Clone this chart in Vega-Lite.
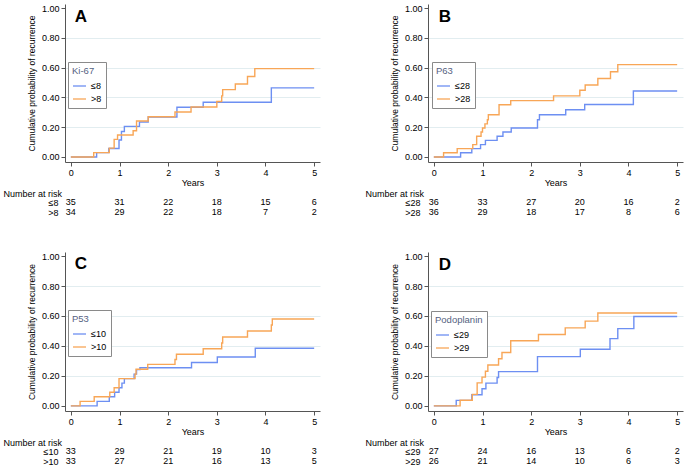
{
  "$schema": "https://vega.github.io/schema/vega-lite/v6.json",
  "background": "white",
  "padding": {"left": 3, "top": 4, "right": 2, "bottom": 2},
  "autosize": {"type": "pad"},
  "config": {
    "font": "Liberation Sans",
    "view": {"stroke": null},
    "axis": {"labelFont": "Liberation Sans", "titleFont": "Liberation Sans", "labelFontSize": 9, "labelColor": "#000", "titleFontSize": 9, "titleFontWeight": "normal", "titleColor": "#000", "domainColor": "#555", "tickColor": "#555", "tickSize": 4, "labelPadding": 2, "labelOverlap": false},
    "legend": {"orient": "none", "legendX": 3, "legendY": 58, "strokeColor": "#8a8a8a", "fillColor": "white", "padding": 4, "titleColor": "#55627f", "titleFontSize": 9.5, "titleFontWeight": "normal", "titleFont": "Liberation Sans", "labelFont": "Liberation Sans", "labelFontSize": 9, "labelColor": "#000", "symbolType": "stroke", "symbolSize": 170, "symbolStrokeWidth": 1.3, "rowPadding": -2, "labelOffset": 4, "titlePadding": 3},
    "text": {"font": "Liberation Sans"}
  },
  "datasets": {
    "curves": [
      {"panel": "A", "group": "≤8", "t": 0, "p": 0}, {"panel": "A", "group": "≤8", "t": 0.53, "p": 0.029}, {"panel": "A", "group": "≤8", "t": 0.78, "p": 0.057}, {"panel": "A", "group": "≤8", "t": 0.99, "p": 0.114}, {"panel": "A", "group": "≤8", "t": 1.04, "p": 0.171}, {"panel": "A", "group": "≤8", "t": 1.1, "p": 0.205}, {"panel": "A", "group": "≤8", "t": 1.41, "p": 0.235}, {"panel": "A", "group": "≤8", "t": 1.59, "p": 0.268}, {"panel": "A", "group": "≤8", "t": 2.18, "p": 0.334}, {"panel": "A", "group": "≤8", "t": 2.72, "p": 0.367}, {"panel": "A", "group": "≤8", "t": 4.12, "p": 0.464}, {"panel": "A", "group": "≤8", "t": 5, "p": 0.464},
      {"panel": "A", "group": ">8", "t": 0, "p": 0}, {"panel": "A", "group": ">8", "t": 0.47, "p": 0.029}, {"panel": "A", "group": ">8", "t": 0.79, "p": 0.059}, {"panel": "A", "group": ">8", "t": 0.89, "p": 0.118}, {"panel": "A", "group": ">8", "t": 0.96, "p": 0.147}, {"panel": "A", "group": ">8", "t": 1.28, "p": 0.176}, {"panel": "A", "group": ">8", "t": 1.35, "p": 0.241}, {"panel": "A", "group": ">8", "t": 1.59, "p": 0.27}, {"panel": "A", "group": ">8", "t": 2.14, "p": 0.302}, {"panel": "A", "group": ">8", "t": 2.47, "p": 0.335}, {"panel": "A", "group": ">8", "t": 3.0, "p": 0.372}, {"panel": "A", "group": ">8", "t": 3.1, "p": 0.41}, {"panel": "A", "group": ">8", "t": 3.12, "p": 0.452}, {"panel": "A", "group": ">8", "t": 3.38, "p": 0.49}, {"panel": "A", "group": ">8", "t": 3.63, "p": 0.54}, {"panel": "A", "group": ">8", "t": 3.78, "p": 0.593}, {"panel": "A", "group": ">8", "t": 5, "p": 0.593},
      {"panel": "B", "group": "≤28", "t": 0, "p": 0}, {"panel": "B", "group": "≤28", "t": 0.55, "p": 0.028}, {"panel": "B", "group": "≤28", "t": 0.78, "p": 0.056}, {"panel": "B", "group": "≤28", "t": 0.96, "p": 0.083}, {"panel": "B", "group": "≤28", "t": 1.06, "p": 0.111}, {"panel": "B", "group": "≤28", "t": 1.3, "p": 0.139}, {"panel": "B", "group": "≤28", "t": 1.42, "p": 0.167}, {"panel": "B", "group": "≤28", "t": 1.59, "p": 0.194}, {"panel": "B", "group": "≤28", "t": 2.13, "p": 0.25}, {"panel": "B", "group": "≤28", "t": 2.17, "p": 0.283}, {"panel": "B", "group": "≤28", "t": 2.71, "p": 0.317}, {"panel": "B", "group": "≤28", "t": 3.1, "p": 0.352}, {"panel": "B", "group": "≤28", "t": 4.1, "p": 0.443}, {"panel": "B", "group": "≤28", "t": 5, "p": 0.443},
      {"panel": "B", "group": ">28", "t": 0, "p": 0}, {"panel": "B", "group": ">28", "t": 0.2, "p": 0.028}, {"panel": "B", "group": ">28", "t": 0.48, "p": 0.056}, {"panel": "B", "group": ">28", "t": 0.8, "p": 0.083}, {"panel": "B", "group": ">28", "t": 0.88, "p": 0.139}, {"panel": "B", "group": ">28", "t": 0.97, "p": 0.167}, {"panel": "B", "group": ">28", "t": 1.0, "p": 0.194}, {"panel": "B", "group": ">28", "t": 1.05, "p": 0.222}, {"panel": "B", "group": ">28", "t": 1.1, "p": 0.25}, {"panel": "B", "group": ">28", "t": 1.12, "p": 0.283}, {"panel": "B", "group": ">28", "t": 1.34, "p": 0.35}, {"panel": "B", "group": ">28", "t": 1.58, "p": 0.378}, {"panel": "B", "group": ">28", "t": 2.46, "p": 0.41}, {"panel": "B", "group": ">28", "t": 3.0, "p": 0.448}, {"panel": "B", "group": ">28", "t": 3.11, "p": 0.483}, {"panel": "B", "group": ">28", "t": 3.37, "p": 0.527}, {"panel": "B", "group": ">28", "t": 3.63, "p": 0.572}, {"panel": "B", "group": ">28", "t": 3.78, "p": 0.62}, {"panel": "B", "group": ">28", "t": 5, "p": 0.62},
      {"panel": "C", "group": "≤10", "t": 0, "p": 0}, {"panel": "C", "group": "≤10", "t": 0.54, "p": 0.03}, {"panel": "C", "group": "≤10", "t": 0.79, "p": 0.061}, {"panel": "C", "group": "≤10", "t": 0.9, "p": 0.091}, {"panel": "C", "group": "≤10", "t": 0.99, "p": 0.121}, {"panel": "C", "group": "≤10", "t": 1.05, "p": 0.152}, {"panel": "C", "group": "≤10", "t": 1.1, "p": 0.182}, {"panel": "C", "group": "≤10", "t": 1.3, "p": 0.212}, {"panel": "C", "group": "≤10", "t": 1.35, "p": 0.242}, {"panel": "C", "group": "≤10", "t": 1.42, "p": 0.255}, {"panel": "C", "group": "≤10", "t": 2.48, "p": 0.29}, {"panel": "C", "group": "≤10", "t": 3.01, "p": 0.326}, {"panel": "C", "group": "≤10", "t": 3.79, "p": 0.385}, {"panel": "C", "group": "≤10", "t": 5, "p": 0.385},
      {"panel": "C", "group": ">10", "t": 0, "p": 0}, {"panel": "C", "group": ">10", "t": 0.19, "p": 0.03}, {"panel": "C", "group": ">10", "t": 0.48, "p": 0.061}, {"panel": "C", "group": ">10", "t": 0.8, "p": 0.091}, {"panel": "C", "group": ">10", "t": 0.89, "p": 0.121}, {"panel": "C", "group": ">10", "t": 0.99, "p": 0.182}, {"panel": "C", "group": ">10", "t": 1.32, "p": 0.212}, {"panel": "C", "group": ">10", "t": 1.34, "p": 0.245}, {"panel": "C", "group": ">10", "t": 1.58, "p": 0.277}, {"panel": "C", "group": ">10", "t": 2.14, "p": 0.31}, {"panel": "C", "group": ">10", "t": 2.17, "p": 0.345}, {"panel": "C", "group": ">10", "t": 2.72, "p": 0.381}, {"panel": "C", "group": ">10", "t": 3.1, "p": 0.42}, {"panel": "C", "group": ">10", "t": 3.12, "p": 0.46}, {"panel": "C", "group": ">10", "t": 3.63, "p": 0.5}, {"panel": "C", "group": ">10", "t": 4.12, "p": 0.54}, {"panel": "C", "group": ">10", "t": 4.14, "p": 0.58}, {"panel": "C", "group": ">10", "t": 5, "p": 0.58},
      {"panel": "D", "group": "≤29", "t": 0, "p": 0}, {"panel": "D", "group": "≤29", "t": 0.46, "p": 0.037}, {"panel": "D", "group": "≤29", "t": 0.78, "p": 0.074}, {"panel": "D", "group": "≤29", "t": 0.99, "p": 0.114}, {"panel": "D", "group": "≤29", "t": 1.07, "p": 0.152}, {"panel": "D", "group": "≤29", "t": 1.3, "p": 0.19}, {"panel": "D", "group": "≤29", "t": 1.33, "p": 0.229}, {"panel": "D", "group": "≤29", "t": 2.13, "p": 0.329}, {"panel": "D", "group": "≤29", "t": 3.01, "p": 0.378}, {"panel": "D", "group": "≤29", "t": 3.62, "p": 0.449}, {"panel": "D", "group": "≤29", "t": 3.78, "p": 0.516}, {"panel": "D", "group": "≤29", "t": 4.11, "p": 0.597}, {"panel": "D", "group": "≤29", "t": 5, "p": 0.597},
      {"panel": "D", "group": ">29", "t": 0, "p": 0}, {"panel": "D", "group": ">29", "t": 0.54, "p": 0.038}, {"panel": "D", "group": ">29", "t": 0.79, "p": 0.077}, {"panel": "D", "group": ">29", "t": 0.89, "p": 0.154}, {"panel": "D", "group": ">29", "t": 0.99, "p": 0.192}, {"panel": "D", "group": ">29", "t": 1.06, "p": 0.231}, {"panel": "D", "group": ">29", "t": 1.11, "p": 0.273}, {"panel": "D", "group": ">29", "t": 1.33, "p": 0.315}, {"panel": "D", "group": ">29", "t": 1.4, "p": 0.356}, {"panel": "D", "group": ">29", "t": 1.58, "p": 0.435}, {"panel": "D", "group": ">29", "t": 2.15, "p": 0.476}, {"panel": "D", "group": ">29", "t": 2.7, "p": 0.521}, {"panel": "D", "group": ">29", "t": 3.11, "p": 0.566}, {"panel": "D", "group": ">29", "t": 3.37, "p": 0.62}, {"panel": "D", "group": ">29", "t": 5, "p": 0.62}
    ],
    "risk": [
      {"panel": "A", "group": "≤8", "t": 0, "n": 35}, {"panel": "A", "group": "≤8", "t": 1, "n": 31}, {"panel": "A", "group": "≤8", "t": 2, "n": 22}, {"panel": "A", "group": "≤8", "t": 3, "n": 18}, {"panel": "A", "group": "≤8", "t": 4, "n": 15}, {"panel": "A", "group": "≤8", "t": 5, "n": 6},
      {"panel": "A", "group": ">8", "t": 0, "n": 34}, {"panel": "A", "group": ">8", "t": 1, "n": 29}, {"panel": "A", "group": ">8", "t": 2, "n": 22}, {"panel": "A", "group": ">8", "t": 3, "n": 18}, {"panel": "A", "group": ">8", "t": 4, "n": 7}, {"panel": "A", "group": ">8", "t": 5, "n": 2},
      {"panel": "B", "group": "≤28", "t": 0, "n": 36}, {"panel": "B", "group": "≤28", "t": 1, "n": 33}, {"panel": "B", "group": "≤28", "t": 2, "n": 27}, {"panel": "B", "group": "≤28", "t": 3, "n": 20}, {"panel": "B", "group": "≤28", "t": 4, "n": 16}, {"panel": "B", "group": "≤28", "t": 5, "n": 2},
      {"panel": "B", "group": ">28", "t": 0, "n": 36}, {"panel": "B", "group": ">28", "t": 1, "n": 29}, {"panel": "B", "group": ">28", "t": 2, "n": 18}, {"panel": "B", "group": ">28", "t": 3, "n": 17}, {"panel": "B", "group": ">28", "t": 4, "n": 8}, {"panel": "B", "group": ">28", "t": 5, "n": 6},
      {"panel": "C", "group": "≤10", "t": 0, "n": 33}, {"panel": "C", "group": "≤10", "t": 1, "n": 29}, {"panel": "C", "group": "≤10", "t": 2, "n": 21}, {"panel": "C", "group": "≤10", "t": 3, "n": 19}, {"panel": "C", "group": "≤10", "t": 4, "n": 10}, {"panel": "C", "group": "≤10", "t": 5, "n": 3},
      {"panel": "C", "group": ">10", "t": 0, "n": 33}, {"panel": "C", "group": ">10", "t": 1, "n": 27}, {"panel": "C", "group": ">10", "t": 2, "n": 21}, {"panel": "C", "group": ">10", "t": 3, "n": 16}, {"panel": "C", "group": ">10", "t": 4, "n": 13}, {"panel": "C", "group": ">10", "t": 5, "n": 5},
      {"panel": "D", "group": "≤29", "t": 0, "n": 27}, {"panel": "D", "group": "≤29", "t": 1, "n": 24}, {"panel": "D", "group": "≤29", "t": 2, "n": 16}, {"panel": "D", "group": "≤29", "t": 3, "n": 13}, {"panel": "D", "group": "≤29", "t": 4, "n": 6}, {"panel": "D", "group": "≤29", "t": 5, "n": 2},
      {"panel": "D", "group": ">29", "t": 0, "n": 26}, {"panel": "D", "group": ">29", "t": 1, "n": 21}, {"panel": "D", "group": ">29", "t": 2, "n": 14}, {"panel": "D", "group": ">29", "t": 3, "n": 10}, {"panel": "D", "group": ">29", "t": 4, "n": 6}, {"panel": "D", "group": ">29", "t": 5, "n": 3}
    ]
  },
  "resolve": {"scale": {"color": "independent"}, "legend": {"color": "independent"}},
  "spacing": 35,
  "vconcat": [
    {
      "resolve": {"scale": {"color": "independent"}, "legend": {"color": "independent"}},
      "spacing": 45,
      "hconcat": [
        {
          "resolve": {"scale": {"color": "independent"}, "legend": {"color": "independent"}},
          "spacing": 2,
          "vconcat": [
            {
              "width": 255, "height": 158,
              "layer": [
                {
                  "data": {"name": "curves"},
                  "transform": [{"filter": "datum.panel == 'A'"}],
                  "mark": {"type": "line", "interpolate": "step-after", "strokeWidth": 1.4},
                  "encoding": {
                    "x": {"field": "t", "type": "quantitative", "scale": {"domain": [-0.12, 5.12], "nice": false, "zero": false}, "axis": {"values": [0, 1, 2, 3, 4, 5], "tickCount": 10, "format": "d", "title": "Years", "grid": false, "titlePadding": 1, "labelFlush": false}},
                    "y": {"field": "p", "type": "quantitative", "scale": {"domain": [-0.034, 1.027], "nice": false, "zero": false}, "axis": {"values": [0, 0.2, 0.4, 0.6, 0.8, 1], "tickCount": 10, "format": ".2f", "labelOverlap": false, "title": "Cumulative probability of recurrence", "titleFontSize": 8.5, "titlePadding": 5, "grid": true, "gridColor": "#e2edf0", "gridOpacity": {"condition": {"test": "datum.value < 0.01 || datum.value > 0.99", "value": 0}, "value": 1}}},
                    "color": {"field": "group", "type": "nominal", "scale": {"domain": ["≤8", ">8"], "range": ["#6d8ff2", "#f8a657"]}, "legend": {"title": "Ki-67", "legendX": 3, "legendY": 58}}
                  }
                },
                {
                  "data": {"values": [{"label": "A"}]},
                  "mark": {"type": "text", "align": "left", "baseline": "top", "fontSize": 17, "fontWeight": "bold"},
                  "encoding": {"x": {"datum": 0.08}, "y": {"datum": 0.993}, "text": {"field": "label"}}
                }
              ]
            },
            {
              "width": 255, "height": 20,
              "data": {"name": "risk"},
              "transform": [{"filter": "datum.panel == 'A'"}],
              "mark": {"type": "text", "fontSize": 9},
              "encoding": {
                "x": {"field": "t", "type": "quantitative", "scale": {"domain": [-0.12, 5.12], "nice": false, "zero": false}, "axis": null},
                "y": {"field": "group", "type": "nominal", "sort": ["≤8", ">8"], "scale": {"type": "point", "padding": 0.5}, "axis": {"title": "Number at risk", "titleAngle": 0, "titleAlign": "left", "titleBaseline": "middle", "titleX": -62, "titleY": -4, "domain": false, "ticks": false, "labelPadding": 7, "grid": false}},
                "text": {"field": "n", "type": "quantitative"}
              }
            }
          ]
        },
        {
          "resolve": {"scale": {"color": "independent"}, "legend": {"color": "independent"}},
          "spacing": 2,
          "vconcat": [
            {
              "width": 255, "height": 158,
              "layer": [
                {
                  "data": {"name": "curves"},
                  "transform": [{"filter": "datum.panel == 'B'"}],
                  "mark": {"type": "line", "interpolate": "step-after", "strokeWidth": 1.4},
                  "encoding": {
                    "x": {"field": "t", "type": "quantitative", "scale": {"domain": [-0.12, 5.12], "nice": false, "zero": false}, "axis": {"values": [0, 1, 2, 3, 4, 5], "tickCount": 10, "format": "d", "title": "Years", "grid": false, "titlePadding": 1, "labelFlush": false}},
                    "y": {"field": "p", "type": "quantitative", "scale": {"domain": [-0.034, 1.027], "nice": false, "zero": false}, "axis": {"values": [0, 0.2, 0.4, 0.6, 0.8, 1], "tickCount": 10, "format": ".2f", "labelOverlap": false, "title": "Cumulative probability of recurrence", "titleFontSize": 8.5, "titlePadding": 5, "grid": true, "gridColor": "#e2edf0", "gridOpacity": {"condition": {"test": "datum.value < 0.01 || datum.value > 0.99", "value": 0}, "value": 1}}},
                    "color": {"field": "group", "type": "nominal", "scale": {"domain": ["≤28", ">28"], "range": ["#6d8ff2", "#f8a657"]}, "legend": {"title": "P63", "legendX": 4, "legendY": 58}}
                  }
                },
                {
                  "data": {"values": [{"label": "B"}]},
                  "mark": {"type": "text", "align": "left", "baseline": "top", "fontSize": 17, "fontWeight": "bold"},
                  "encoding": {"x": {"datum": 0.1}, "y": {"datum": 0.993}, "text": {"field": "label"}}
                }
              ]
            },
            {
              "width": 255, "height": 20,
              "data": {"name": "risk"},
              "transform": [{"filter": "datum.panel == 'B'"}],
              "mark": {"type": "text", "fontSize": 9},
              "encoding": {
                "x": {"field": "t", "type": "quantitative", "scale": {"domain": [-0.12, 5.12], "nice": false, "zero": false}, "axis": null},
                "y": {"field": "group", "type": "nominal", "sort": ["≤28", ">28"], "scale": {"type": "point", "padding": 0.5}, "axis": {"title": "Number at risk", "titleAngle": 0, "titleAlign": "left", "titleBaseline": "middle", "titleX": -63, "titleY": -4, "domain": false, "ticks": false, "labelPadding": 8, "grid": false}},
                "text": {"field": "n", "type": "quantitative"}
              }
            }
          ]
        }
      ]
    },
    {
      "resolve": {"scale": {"color": "independent"}, "legend": {"color": "independent"}},
      "spacing": 45,
      "hconcat": [
        {
          "resolve": {"scale": {"color": "independent"}, "legend": {"color": "independent"}},
          "spacing": 2,
          "vconcat": [
            {
              "width": 255, "height": 159,
              "layer": [
                {
                  "data": {"name": "curves"},
                  "transform": [{"filter": "datum.panel == 'C'"}],
                  "mark": {"type": "line", "interpolate": "step-after", "strokeWidth": 1.4},
                  "encoding": {
                    "x": {"field": "t", "type": "quantitative", "scale": {"domain": [-0.12, 5.12], "nice": false, "zero": false}, "axis": {"values": [0, 1, 2, 3, 4, 5], "tickCount": 10, "format": "d", "title": "Years", "grid": false, "titlePadding": 1, "labelFlush": false}},
                    "y": {"field": "p", "type": "quantitative", "scale": {"domain": [-0.034, 1.027], "nice": false, "zero": false}, "axis": {"values": [0, 0.2, 0.4, 0.6, 0.8, 1], "tickCount": 10, "format": ".2f", "labelOverlap": false, "title": "Cumulative probability of recurrence", "titleFontSize": 8.5, "titlePadding": 5, "grid": true, "gridColor": "#e2edf0", "gridOpacity": {"condition": {"test": "datum.value < 0.01 || datum.value > 0.99", "value": 0}, "value": 1}}},
                    "color": {"field": "group", "type": "nominal", "scale": {"domain": ["≤10", ">10"], "range": ["#6d8ff2", "#f8a657"]}, "legend": {"title": "P53", "legendX": 3, "legendY": 58}}
                  }
                },
                {
                  "data": {"values": [{"label": "C"}]},
                  "mark": {"type": "text", "align": "left", "baseline": "top", "fontSize": 17, "fontWeight": "bold"},
                  "encoding": {"x": {"datum": 0.08}, "y": {"datum": 1.0}, "text": {"field": "label"}}
                }
              ]
            },
            {
              "width": 255, "height": 20,
              "data": {"name": "risk"},
              "transform": [{"filter": "datum.panel == 'C'"}],
              "mark": {"type": "text", "fontSize": 9},
              "encoding": {
                "x": {"field": "t", "type": "quantitative", "scale": {"domain": [-0.12, 5.12], "nice": false, "zero": false}, "axis": null},
                "y": {"field": "group", "type": "nominal", "sort": ["≤10", ">10"], "scale": {"type": "point", "padding": 0.5}, "axis": {"title": "Number at risk", "titleAngle": 0, "titleAlign": "left", "titleBaseline": "middle", "titleX": -62, "titleY": -4, "domain": false, "ticks": false, "labelPadding": 7, "grid": false}},
                "text": {"field": "n", "type": "quantitative"}
              }
            }
          ]
        },
        {
          "resolve": {"scale": {"color": "independent"}, "legend": {"color": "independent"}},
          "spacing": 2,
          "vconcat": [
            {
              "width": 255, "height": 159,
              "layer": [
                {
                  "data": {"name": "curves"},
                  "transform": [{"filter": "datum.panel == 'D'"}],
                  "mark": {"type": "line", "interpolate": "step-after", "strokeWidth": 1.4},
                  "encoding": {
                    "x": {"field": "t", "type": "quantitative", "scale": {"domain": [-0.12, 5.12], "nice": false, "zero": false}, "axis": {"values": [0, 1, 2, 3, 4, 5], "tickCount": 10, "format": "d", "title": "Years", "grid": false, "titlePadding": 1, "labelFlush": false}},
                    "y": {"field": "p", "type": "quantitative", "scale": {"domain": [-0.034, 1.027], "nice": false, "zero": false}, "axis": {"values": [0, 0.2, 0.4, 0.6, 0.8, 1], "tickCount": 10, "format": ".2f", "labelOverlap": false, "title": "Cumulative probability of recurrence", "titleFontSize": 8.5, "titlePadding": 5, "grid": true, "gridColor": "#e2edf0", "gridOpacity": {"condition": {"test": "datum.value < 0.01 || datum.value > 0.99", "value": 0}, "value": 1}}},
                    "color": {"field": "group", "type": "nominal", "scale": {"domain": ["≤29", ">29"], "range": ["#6d8ff2", "#f8a657"]}, "legend": {"title": "Podoplanin", "legendX": 3, "legendY": 59}}
                  }
                },
                {
                  "data": {"values": [{"label": "D"}]},
                  "mark": {"type": "text", "align": "left", "baseline": "top", "fontSize": 17, "fontWeight": "bold"},
                  "encoding": {"x": {"datum": 0.1}, "y": {"datum": 0.995}, "text": {"field": "label"}}
                }
              ]
            },
            {
              "width": 255, "height": 20,
              "data": {"name": "risk"},
              "transform": [{"filter": "datum.panel == 'D'"}],
              "mark": {"type": "text", "fontSize": 9},
              "encoding": {
                "x": {"field": "t", "type": "quantitative", "scale": {"domain": [-0.12, 5.12], "nice": false, "zero": false}, "axis": null},
                "y": {"field": "group", "type": "nominal", "sort": ["≤29", ">29"], "scale": {"type": "point", "padding": 0.5}, "axis": {"title": "Number at risk", "titleAngle": 0, "titleAlign": "left", "titleBaseline": "middle", "titleX": -63, "titleY": -4, "domain": false, "ticks": false, "labelPadding": 8, "grid": false}},
                "text": {"field": "n", "type": "quantitative"}
              }
            }
          ]
        }
      ]
    }
  ]
}
